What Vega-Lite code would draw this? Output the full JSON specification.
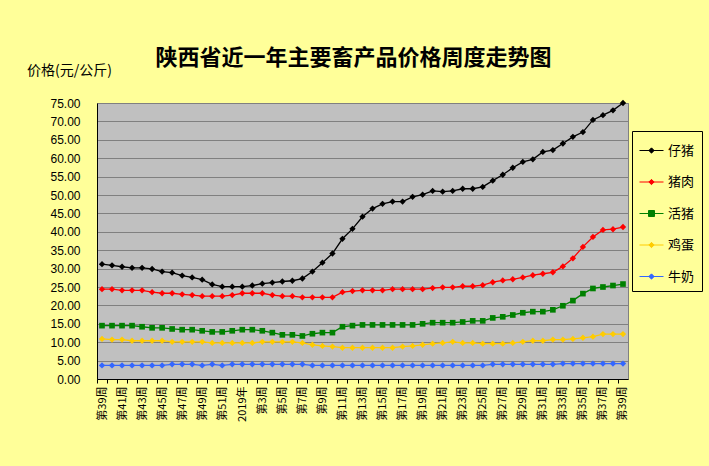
{
  "$schema": "https://vega.github.io/schema/vega-lite/v6.json",
  "autosize": "none",
  "width": 531,
  "height": 276,
  "padding": {"left": 97, "top": 103, "right": 81, "bottom": 87},
  "background": "#FFFF99",
  "title": {"text": "陕西省近一年主要畜产品价格周度走势图", "font": "Noto Sans CJK SC", "fontSize": 22, "fontWeight": "bold", "color": "#000000", "anchor": "middle", "dx": -9, "dy": 13, "offset": 6},
  "config": {
    "view": {"fill": "#C0C0C0", "stroke": "#808080", "strokeWidth": 1},
    "legend": {"labelFont": "Noto Sans CJK SC"}
  },
  "data": {"values": [
    {"w":"18-39","s":"仔猪","p":31.2},{"w":"18-40","s":"仔猪","p":30.9},{"w":"18-41","s":"仔猪","p":30.5},{"w":"18-42","s":"仔猪","p":30.2},{"w":"18-43","s":"仔猪","p":30.2},{"w":"18-44","s":"仔猪","p":29.9},{"w":"18-45","s":"仔猪","p":29.2},{"w":"18-46","s":"仔猪","p":28.9},{"w":"18-47","s":"仔猪","p":28.1},{"w":"18-48","s":"仔猪","p":27.6},{"w":"18-49","s":"仔猪","p":27.0},{"w":"18-50","s":"仔猪","p":25.7},{"w":"18-51","s":"仔猪","p":25.1},{"w":"18-52","s":"仔猪","p":25.1},{"w":"19-01","s":"仔猪","p":25.1},{"w":"19-02","s":"仔猪","p":25.4},{"w":"19-03","s":"仔猪","p":25.9},{"w":"19-04","s":"仔猪","p":26.2},{"w":"19-05","s":"仔猪","p":26.5},{"w":"19-06","s":"仔猪","p":26.7},{"w":"19-07","s":"仔猪","p":27.3},{"w":"19-08","s":"仔猪","p":29.2},{"w":"19-09","s":"仔猪","p":31.6},{"w":"19-10","s":"仔猪","p":34.1},{"w":"19-11","s":"仔猪","p":38.1},{"w":"19-12","s":"仔猪","p":40.8},{"w":"19-13","s":"仔猪","p":44.1},{"w":"19-14","s":"仔猪","p":46.3},{"w":"19-15","s":"仔猪","p":47.6},{"w":"19-16","s":"仔猪","p":48.2},{"w":"19-17","s":"仔猪","p":48.2},{"w":"19-18","s":"仔猪","p":49.5},{"w":"19-19","s":"仔猪","p":50.1},{"w":"19-20","s":"仔猪","p":51.1},{"w":"19-21","s":"仔猪","p":50.9},{"w":"19-22","s":"仔猪","p":51.1},{"w":"19-23","s":"仔猪","p":51.7},{"w":"19-24","s":"仔猪","p":51.7},{"w":"19-25","s":"仔猪","p":52.2},{"w":"19-26","s":"仔猪","p":53.9},{"w":"19-27","s":"仔猪","p":55.5},{"w":"19-28","s":"仔猪","p":57.4},{"w":"19-29","s":"仔猪","p":59.0},{"w":"19-30","s":"仔猪","p":59.7},{"w":"19-31","s":"仔猪","p":61.7},{"w":"19-32","s":"仔猪","p":62.2},{"w":"19-33","s":"仔猪","p":64.0},{"w":"19-34","s":"仔猪","p":65.8},{"w":"19-35","s":"仔猪","p":67.1},{"w":"19-36","s":"仔猪","p":70.4},{"w":"19-37","s":"仔猪","p":71.7},{"w":"19-38","s":"仔猪","p":73.0},{"w":"19-39","s":"仔猪","p":75.0},
    {"w":"18-39","s":"猪肉","p":24.4},{"w":"18-40","s":"猪肉","p":24.4},{"w":"18-41","s":"猪肉","p":24.1},{"w":"18-42","s":"猪肉","p":24.1},{"w":"18-43","s":"猪肉","p":24.1},{"w":"18-44","s":"猪肉","p":23.6},{"w":"18-45","s":"猪肉","p":23.3},{"w":"18-46","s":"猪肉","p":23.3},{"w":"18-47","s":"猪肉","p":23.0},{"w":"18-48","s":"猪肉","p":22.8},{"w":"18-49","s":"猪肉","p":22.5},{"w":"18-50","s":"猪肉","p":22.5},{"w":"18-51","s":"猪肉","p":22.5},{"w":"18-52","s":"猪肉","p":22.8},{"w":"19-01","s":"猪肉","p":23.3},{"w":"19-02","s":"猪肉","p":23.3},{"w":"19-03","s":"猪肉","p":23.3},{"w":"19-04","s":"猪肉","p":22.8},{"w":"19-05","s":"猪肉","p":22.5},{"w":"19-06","s":"猪肉","p":22.5},{"w":"19-07","s":"猪肉","p":22.2},{"w":"19-08","s":"猪肉","p":22.2},{"w":"19-09","s":"猪肉","p":22.2},{"w":"19-10","s":"猪肉","p":22.2},{"w":"19-11","s":"猪肉","p":23.6},{"w":"19-12","s":"猪肉","p":23.9},{"w":"19-13","s":"猪肉","p":24.1},{"w":"19-14","s":"猪肉","p":24.1},{"w":"19-15","s":"猪肉","p":24.1},{"w":"19-16","s":"猪肉","p":24.4},{"w":"19-17","s":"猪肉","p":24.4},{"w":"19-18","s":"猪肉","p":24.4},{"w":"19-19","s":"猪肉","p":24.4},{"w":"19-20","s":"猪肉","p":24.7},{"w":"19-21","s":"猪肉","p":24.9},{"w":"19-22","s":"猪肉","p":24.9},{"w":"19-23","s":"猪肉","p":25.2},{"w":"19-24","s":"猪肉","p":25.2},{"w":"19-25","s":"猪肉","p":25.5},{"w":"19-26","s":"猪肉","p":26.3},{"w":"19-27","s":"猪肉","p":26.8},{"w":"19-28","s":"猪肉","p":27.1},{"w":"19-29","s":"猪肉","p":27.6},{"w":"19-30","s":"猪肉","p":28.2},{"w":"19-31","s":"猪肉","p":28.6},{"w":"19-32","s":"猪肉","p":29.0},{"w":"19-33","s":"猪肉","p":30.6},{"w":"19-34","s":"猪肉","p":32.8},{"w":"19-35","s":"猪肉","p":35.9},{"w":"19-36","s":"猪肉","p":38.6},{"w":"19-37","s":"猪肉","p":40.5},{"w":"19-38","s":"猪肉","p":40.7},{"w":"19-39","s":"猪肉","p":41.3},
    {"w":"18-39","s":"活猪","p":14.5},{"w":"18-40","s":"活猪","p":14.5},{"w":"18-41","s":"活猪","p":14.5},{"w":"18-42","s":"活猪","p":14.5},{"w":"18-43","s":"活猪","p":14.2},{"w":"18-44","s":"活猪","p":13.9},{"w":"18-45","s":"活猪","p":13.9},{"w":"18-46","s":"活猪","p":13.6},{"w":"18-47","s":"活猪","p":13.4},{"w":"18-48","s":"活猪","p":13.4},{"w":"18-49","s":"活猪","p":13.1},{"w":"18-50","s":"活猪","p":12.8},{"w":"18-51","s":"活猪","p":12.8},{"w":"18-52","s":"活猪","p":13.1},{"w":"19-01","s":"活猪","p":13.4},{"w":"19-02","s":"活猪","p":13.4},{"w":"19-03","s":"活猪","p":13.1},{"w":"19-04","s":"活猪","p":12.6},{"w":"19-05","s":"活猪","p":12.0},{"w":"19-06","s":"活猪","p":12.0},{"w":"19-07","s":"活猪","p":11.7},{"w":"19-08","s":"活猪","p":12.3},{"w":"19-09","s":"活猪","p":12.6},{"w":"19-10","s":"活猪","p":12.6},{"w":"19-11","s":"活猪","p":14.2},{"w":"19-12","s":"活猪","p":14.5},{"w":"19-13","s":"活猪","p":14.7},{"w":"19-14","s":"活猪","p":14.7},{"w":"19-15","s":"活猪","p":14.7},{"w":"19-16","s":"活猪","p":14.7},{"w":"19-17","s":"活猪","p":14.7},{"w":"19-18","s":"活猪","p":14.7},{"w":"19-19","s":"活猪","p":15.0},{"w":"19-20","s":"活猪","p":15.3},{"w":"19-21","s":"活猪","p":15.3},{"w":"19-22","s":"活猪","p":15.3},{"w":"19-23","s":"活猪","p":15.5},{"w":"19-24","s":"活猪","p":15.8},{"w":"19-25","s":"活猪","p":15.8},{"w":"19-26","s":"活猪","p":16.6},{"w":"19-27","s":"活猪","p":16.9},{"w":"19-28","s":"活猪","p":17.4},{"w":"19-29","s":"活猪","p":18.0},{"w":"19-30","s":"活猪","p":18.3},{"w":"19-31","s":"活猪","p":18.3},{"w":"19-32","s":"活猪","p":18.8},{"w":"19-33","s":"活猪","p":19.9},{"w":"19-34","s":"活猪","p":21.3},{"w":"19-35","s":"活猪","p":23.2},{"w":"19-36","s":"活猪","p":24.6},{"w":"19-37","s":"活猪","p":25.0},{"w":"19-38","s":"活猪","p":25.4},{"w":"19-39","s":"活猪","p":25.8},
    {"w":"18-39","s":"鸡蛋","p":10.9},{"w":"18-40","s":"鸡蛋","p":10.7},{"w":"18-41","s":"鸡蛋","p":10.7},{"w":"18-42","s":"鸡蛋","p":10.4},{"w":"18-43","s":"鸡蛋","p":10.4},{"w":"18-44","s":"鸡蛋","p":10.4},{"w":"18-45","s":"鸡蛋","p":10.4},{"w":"18-46","s":"鸡蛋","p":10.1},{"w":"18-47","s":"鸡蛋","p":10.1},{"w":"18-48","s":"鸡蛋","p":10.1},{"w":"18-49","s":"鸡蛋","p":10.1},{"w":"18-50","s":"鸡蛋","p":9.8},{"w":"18-51","s":"鸡蛋","p":9.8},{"w":"18-52","s":"鸡蛋","p":9.8},{"w":"19-01","s":"鸡蛋","p":9.8},{"w":"19-02","s":"鸡蛋","p":9.8},{"w":"19-03","s":"鸡蛋","p":10.1},{"w":"19-04","s":"鸡蛋","p":10.1},{"w":"19-05","s":"鸡蛋","p":10.1},{"w":"19-06","s":"鸡蛋","p":10.1},{"w":"19-07","s":"鸡蛋","p":9.8},{"w":"19-08","s":"鸡蛋","p":9.3},{"w":"19-09","s":"鸡蛋","p":9.0},{"w":"19-10","s":"鸡蛋","p":8.8},{"w":"19-11","s":"鸡蛋","p":8.5},{"w":"19-12","s":"鸡蛋","p":8.5},{"w":"19-13","s":"鸡蛋","p":8.5},{"w":"19-14","s":"鸡蛋","p":8.5},{"w":"19-15","s":"鸡蛋","p":8.5},{"w":"19-16","s":"鸡蛋","p":8.5},{"w":"19-17","s":"鸡蛋","p":8.8},{"w":"19-18","s":"鸡蛋","p":9.0},{"w":"19-19","s":"鸡蛋","p":9.3},{"w":"19-20","s":"鸡蛋","p":9.6},{"w":"19-21","s":"鸡蛋","p":9.8},{"w":"19-22","s":"鸡蛋","p":10.1},{"w":"19-23","s":"鸡蛋","p":9.8},{"w":"19-24","s":"鸡蛋","p":9.8},{"w":"19-25","s":"鸡蛋","p":9.6},{"w":"19-26","s":"鸡蛋","p":9.6},{"w":"19-27","s":"鸡蛋","p":9.6},{"w":"19-28","s":"鸡蛋","p":9.8},{"w":"19-29","s":"鸡蛋","p":10.1},{"w":"19-30","s":"鸡蛋","p":10.4},{"w":"19-31","s":"鸡蛋","p":10.4},{"w":"19-32","s":"鸡蛋","p":10.7},{"w":"19-33","s":"鸡蛋","p":10.7},{"w":"19-34","s":"鸡蛋","p":10.9},{"w":"19-35","s":"鸡蛋","p":11.2},{"w":"19-36","s":"鸡蛋","p":11.5},{"w":"19-37","s":"鸡蛋","p":12.2},{"w":"19-38","s":"鸡蛋","p":12.2},{"w":"19-39","s":"鸡蛋","p":12.2},
    {"w":"18-39","s":"牛奶","p":3.7},{"w":"18-40","s":"牛奶","p":3.7},{"w":"18-41","s":"牛奶","p":3.7},{"w":"18-42","s":"牛奶","p":3.7},{"w":"18-43","s":"牛奶","p":3.7},{"w":"18-44","s":"牛奶","p":3.7},{"w":"18-45","s":"牛奶","p":3.7},{"w":"18-46","s":"牛奶","p":4.0},{"w":"18-47","s":"牛奶","p":4.0},{"w":"18-48","s":"牛奶","p":4.0},{"w":"18-49","s":"牛奶","p":3.7},{"w":"18-50","s":"牛奶","p":4.0},{"w":"18-51","s":"牛奶","p":3.7},{"w":"18-52","s":"牛奶","p":4.0},{"w":"19-01","s":"牛奶","p":4.0},{"w":"19-02","s":"牛奶","p":4.0},{"w":"19-03","s":"牛奶","p":4.0},{"w":"19-04","s":"牛奶","p":4.0},{"w":"19-05","s":"牛奶","p":4.0},{"w":"19-06","s":"牛奶","p":4.0},{"w":"19-07","s":"牛奶","p":4.0},{"w":"19-08","s":"牛奶","p":3.7},{"w":"19-09","s":"牛奶","p":3.7},{"w":"19-10","s":"牛奶","p":3.7},{"w":"19-11","s":"牛奶","p":3.7},{"w":"19-12","s":"牛奶","p":3.7},{"w":"19-13","s":"牛奶","p":3.7},{"w":"19-14","s":"牛奶","p":3.7},{"w":"19-15","s":"牛奶","p":3.7},{"w":"19-16","s":"牛奶","p":3.7},{"w":"19-17","s":"牛奶","p":3.7},{"w":"19-18","s":"牛奶","p":3.7},{"w":"19-19","s":"牛奶","p":3.7},{"w":"19-20","s":"牛奶","p":3.7},{"w":"19-21","s":"牛奶","p":3.7},{"w":"19-22","s":"牛奶","p":3.7},{"w":"19-23","s":"牛奶","p":3.7},{"w":"19-24","s":"牛奶","p":3.7},{"w":"19-25","s":"牛奶","p":3.7},{"w":"19-26","s":"牛奶","p":4.0},{"w":"19-27","s":"牛奶","p":4.0},{"w":"19-28","s":"牛奶","p":4.0},{"w":"19-29","s":"牛奶","p":4.0},{"w":"19-30","s":"牛奶","p":4.0},{"w":"19-31","s":"牛奶","p":4.0},{"w":"19-32","s":"牛奶","p":4.0},{"w":"19-33","s":"牛奶","p":4.2},{"w":"19-34","s":"牛奶","p":4.2},{"w":"19-35","s":"牛奶","p":4.2},{"w":"19-36","s":"牛奶","p":4.2},{"w":"19-37","s":"牛奶","p":4.2},{"w":"19-38","s":"牛奶","p":4.2},{"w":"19-39","s":"牛奶","p":4.2}
  ]},
  "encoding": {
    "x": {
      "field": "w", "type": "ordinal", "sort": null,
      "scale": {"type": "point", "padding": 0.5},
      "axis": {
        "title": null, "grid": false, "labelAngle": 270, "labelOverlap": false,
        "labelFont": "Noto Sans CJK SC", "labelFontSize": 11, "labelColor": "#000000",
        "labelPadding": 3, "tickSize": 4, "tickColor": "#000000", "domainColor": "#000000",
        "tickOffset": -5, "labelOffset": 5,
        "labelExpr": "datum.value == '19-01' ? '2019年' : (parseInt(substring(datum.value, 3)) % 2 == 1 ? '第' + parseInt(substring(datum.value, 3)) + '周' : '')"
      }
    },
    "y": {
      "field": "p", "type": "quantitative",
      "scale": {"domain": [0, 75], "nice": false, "zero": true},
      "axis": {
        "values": [0,5,10,15,20,25,30,35,40,45,50,55,60,65,70,75],
        "format": ".2f", "grid": true, "gridColor": "#808080", "gridOpacity": 1,
        "ticks": false, "labelPadding": 17, "labelFont": "Liberation Sans", "labelFontSize": 12,
        "labelColor": "#000000", "domainColor": "#000000",
        "title": "价格(元/公斤)", "titleAngle": 0, "titleX": -28, "titleY": -33,
        "titleAlign": "center", "titleBaseline": "middle", "titleFont": "Noto Sans CJK SC",
        "titleFontSize": 14, "titleFontWeight": "normal", "titleColor": "#000000"
      }
    },
    "color": {
      "field": "s", "type": "nominal",
      "scale": {"domain": ["仔猪","猪肉","活猪","鸡蛋","牛奶"], "range": ["#000000","#FF0000","#008000","#FFCC00","#3366FF"]},
      "legend": {
        "title": null, "orient": "none", "legendX": 535, "legendY": 28,
        "padding": 7, "rowPadding": 11.5, "symbolSize": 576, "labelOffset": 4,
        "labelFontSize": 13, "labelColor": "#000000", "strokeColor": "#000000", "fillColor": "#FFFF99",
        "cornerRadius": 0, "symbolStrokeWidth": 1,
        "encode": {"symbols": {"update": {
          "shape": {"signal": "datum.value === '活猪' ? 'M-1,0L1,0M-0.25,-0.25L0.25,-0.25L0.25,0.25L-0.25,0.25Z' : 'M-1,0L1,0M0,-0.22L0.22,0L0,0.22L-0.22,0Z'"},
          "fill": {"signal": "scale('color', datum.value)"},
          "stroke": {"signal": "scale('color', datum.value)"},
          "strokeWidth": {"value": 1},
          "size": {"value": 576},
          "opacity": {"value": 1},
          "fillOpacity": {"value": 1},
          "strokeOpacity": {"value": 1}
        }}}
      }
    }
  },
  "layer": [
    {"mark": {"type": "line", "strokeWidth": 1.3}},
    {"transform": [{"filter": "datum.s != '活猪'"}], "mark": {"type": "point", "shape": "diamond", "filled": true, "size": 40, "opacity": 1}},
    {"transform": [{"filter": "datum.s == '活猪'"}], "mark": {"type": "point", "shape": "square", "filled": true, "size": 32, "opacity": 1}}
  ]
}
